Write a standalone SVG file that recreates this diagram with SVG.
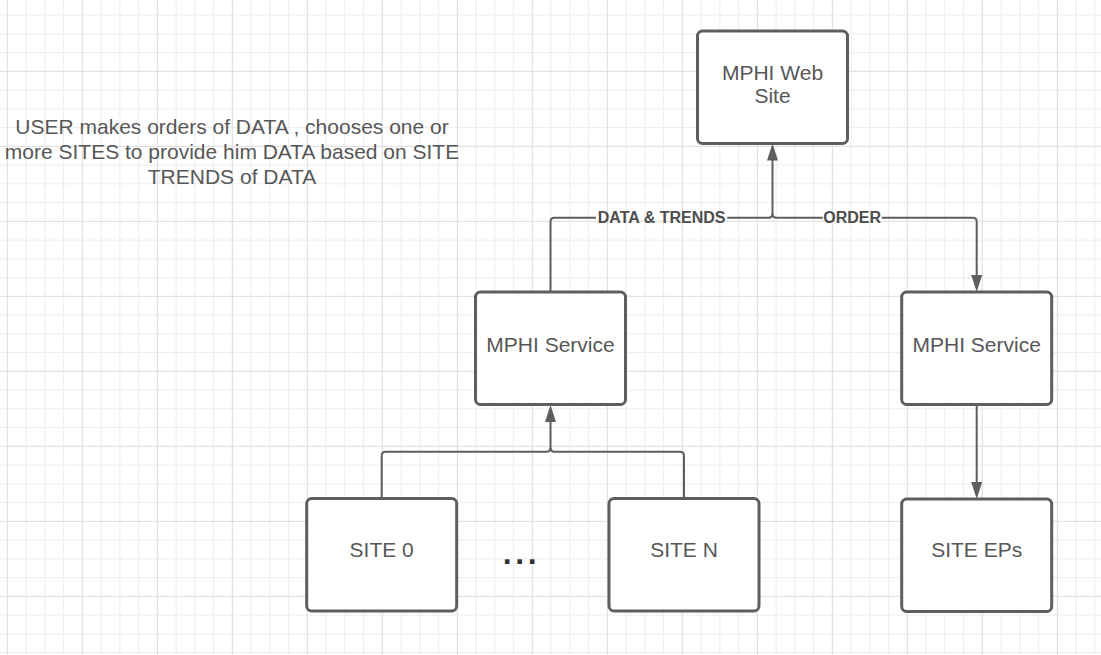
<svg xmlns="http://www.w3.org/2000/svg" width="1101" height="655" viewBox="0 0 1101 655">
  <defs>
    <pattern id="grid" patternUnits="userSpaceOnUse" x="-2.075" y="-13.075" width="75" height="75">
      <path d="M28.125,0V75M46.875,0V75M65.625,0V75M0,28.125H75M0,46.875H75M0,65.625H75" stroke="#ececec" stroke-width="1" fill="none"/>
      <path d="M9.375,0V75M0,9.375H75" stroke="#dcdcdc" stroke-width="1" fill="none"/>
    </pattern>
    <marker id="arr" markerUnits="userSpaceOnUse" markerWidth="18" markerHeight="12" refX="9" refY="5.5" orient="auto">
      <path d="M0,0 L17,5.5 L0,11 Z" fill="#5e5e5e"/>
    </marker>
    <style>
      .box { fill: #ffffff; stroke: #5e5e5e; stroke-width: 3; }
      .t { font-family: "Liberation Sans", Arial, sans-serif; font-size: 21px; fill: #575757; text-anchor: middle; }
      .lbl { font-family: "Liberation Sans", Arial, sans-serif; font-size: 16px; font-weight: bold; fill: #4d4d4d; text-anchor: middle; }
      .c { fill: none; stroke: #5e5e5e; stroke-width: 2; }
    </style>
  </defs>
  <rect x="0" y="0" width="1101" height="655" fill="#ffffff"/>
  <rect x="0" y="0" width="1101" height="655" fill="url(#grid)"/>

  <g id="note">
    <text class="t" x="232" y="134">USER makes orders of DATA , chooses one or</text>
    <text class="t" x="232" y="159">more SITES to provide him DATA based on SITE</text>
    <text class="t" x="232" y="184">TRENDS of DATA</text>
  </g>

  <g id="connectors">
    <path class="c" d="M550.5,292 V221.7 Q550.5,217.7 554.5,217.7 H596"/>
    <path class="c" d="M727.3,217.7 H768.5 Q772.5,217.7 772.5,213.7 V151.5" marker-end="url(#arr)"/>
    <path class="c" d="M772.5,213.7 Q772.5,217.7 776.5,217.7 H822.7"/>
    <path class="c" d="M881.7,217.7 H972.7 Q976.7,217.7 976.7,221.7 V284" marker-end="url(#arr)"/>
    <path class="c" d="M976.7,405 V491" marker-end="url(#arr)"/>
    <path class="c" d="M381.7,498.5 V455.7 Q381.7,451.7 385.7,451.7 H546.5 Q550.5,451.7 550.5,447.7 V413" marker-end="url(#arr)"/>
    <path class="c" d="M684,498.5 V455.7 Q684,451.7 680,451.7 H554.5 Q550.5,451.7 550.5,447.7"/>
    <text class="lbl" x="661.6" y="223">DATA &amp; TRENDS</text>
    <text class="lbl" x="852.2" y="223">ORDER</text>
  </g>

  <g id="web-site">
    <rect class="box" x="697.5" y="31" width="150" height="112.5" rx="5"/>
    <text class="t" x="772.5" y="80">MPHI Web</text>
    <text class="t" x="772.5" y="103">Site</text>
  </g>
  <g id="service-left">
    <rect class="box" x="475.5" y="292" width="150" height="112.5" rx="5"/>
    <text class="t" x="550.5" y="351.7">MPHI Service</text>
  </g>
  <g id="service-right">
    <rect class="box" x="901.7" y="292" width="150" height="112.5" rx="5"/>
    <text class="t" x="976.7" y="351.7">MPHI Service</text>
  </g>
  <g id="site-0">
    <rect class="box" x="306.7" y="498.5" width="150" height="112.5" rx="5"/>
    <text class="t" x="381.7" y="557.3">SITE 0</text>
  </g>
  <g id="site-n">
    <rect class="box" x="609" y="498.5" width="150" height="112.5" rx="5"/>
    <text class="t" x="684" y="557.3">SITE N</text>
  </g>
  <g id="site-eps">
    <rect class="box" x="901.7" y="499" width="150" height="112.5" rx="5"/>
    <text class="t" x="976.7" y="557.3">SITE EPs</text>
  </g>
  <g id="ellipsis">
    <text x="502.8" y="563.7" font-family="Liberation Sans, Arial, sans-serif" font-size="32" font-weight="bold" letter-spacing="3.6" fill="#333333">...</text>
  </g>
</svg>
